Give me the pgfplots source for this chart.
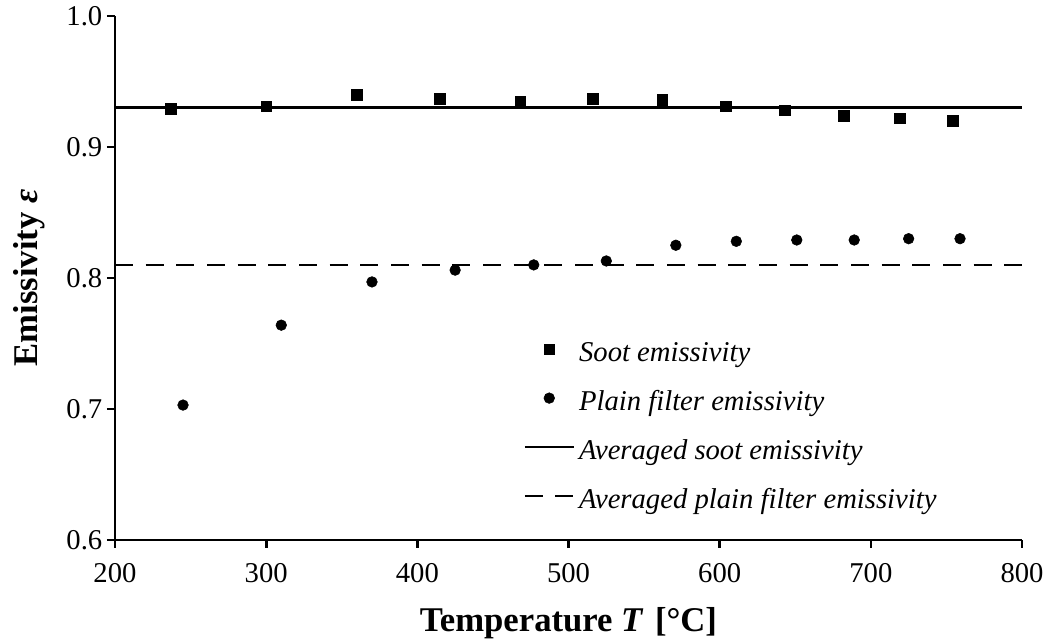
\documentclass[border=0pt]{standalone}
\usepackage{fontspec}
\setmainfont{Liberation Serif}
\usepackage{pgfplots}
\pgfplotsset{compat=1.18}

% Measured emissivity against temperature
\pgfplotstableread{
T     eps
237   0.929
300   0.931
360   0.940
415   0.937
468   0.935
516   0.937
562   0.936
604   0.931
643   0.928
682   0.924
719   0.922
754   0.920
}\sootdata
\pgfplotstableread{
T     eps
245   0.703
310   0.764
370   0.797
425   0.806
477   0.810
525   0.813
571   0.825
611   0.828
651   0.829
689   0.829
725   0.830
759   0.830
}\plaindata

\begin{document}
\begin{tikzpicture}
\useasboundingbox (-86.25pt,-75.75pt) rectangle (699.75pt,405pt);
\begin{axis}[
  at={(0pt,0pt)}, anchor=south west,
  scale only axis, width=680.25pt, height=393pt,
  xmin=200, xmax=800, ymin=0.6, ymax=1.0,
  axis x line=bottom, axis y line=left,
  axis line style={-, line width=2pt, black},
  xtick={200,300,...,800}, ytick={0.6,0.7,0.8,0.9,1.0},
  tick align=outside, major tick length=6pt,
  tick style={line width=2pt, black},
  /pgf/number format/assume math mode=true,
  ticklabel style={font=\fontsize{21.5}{25}\selectfont},
  yticklabel style={/pgf/number format/.cd, fixed, fixed zerofill, precision=1},
  xticklabel style={/pgf/number format/.cd, fixed, precision=0, /tikz/yshift=-8pt},
  xlabel={\textbf{Temperature \textit{T}\,\,[°C]}},
  ylabel={\textbf{Emissivity \textit{ε}}},
  label style={font=\fontsize{26}{30}\selectfont},
  xlabel style={at={(axis description cs:0.5,0)}, anchor=center, yshift=-62pt},
  ylabel style={at={(axis description cs:-0.095,0.5)}, anchor=center},
  legend image code/.code={%
    \draw[mark repeat=2, mark phase=2, #1] plot coordinates {(0pt,4pt) (18.375pt,4pt) (36.75pt,4pt)};},
  legend style={draw=none, fill=none, inner sep=0pt,
    at={(axis cs:470,0.751)}, anchor=north west,
    font=\fontsize{21.5}{25}\selectfont\itshape,
    nodes={inner xsep=3pt, inner ysep=0pt, text height=14pt, text depth=4pt},
    row sep=18.75pt},
  legend cell align=left,
]
\addplot[only marks, mark=square*, mark size=4pt, black] table[x=T, y=eps] {\sootdata};
\addlegendentry{Soot emissivity}
\addplot[only marks, mark=*, mark size=4pt, black] table[x=T, y=eps] {\plaindata};
\addlegendentry{Plain filter emissivity}
\addplot[black, line width=2pt] coordinates {(200,0.930) (800,0.930)};
\addlegendentry{Averaged soot emissivity}
\addplot[black, line width=2pt, dash pattern=on 13.5pt off 9.5pt] coordinates {(200,0.810) (800,0.810)};
\addlegendentry{Averaged plain filter emissivity}
\end{axis}
\end{tikzpicture}
\end{document}
